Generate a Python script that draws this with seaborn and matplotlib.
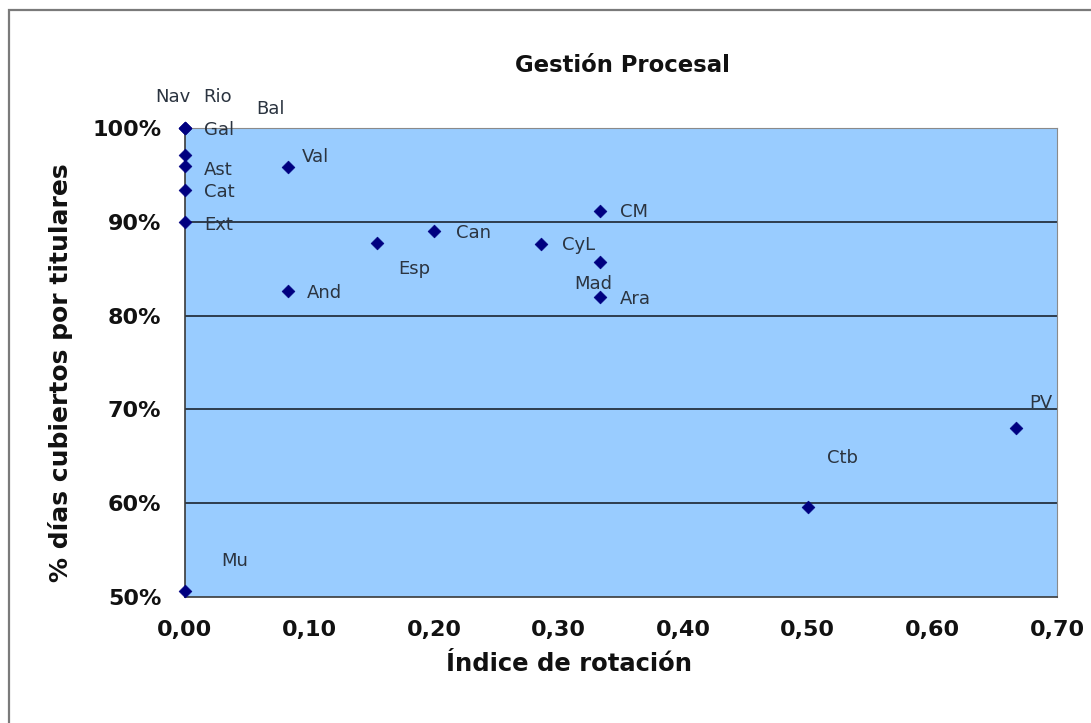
import matplotlib
matplotlib.use("Agg")
import matplotlib.pyplot as plt
import matplotlib.patches as mpatches
from matplotlib.ticker import FuncFormatter, MultipleLocator
import seaborn as sns
import pandas as pd

# Regional data: rotation index vs. share of days covered by permanent judges
regions = ["Nav", "Rio", "Gal", "Bal", "Ast", "Cat", "Ext", "Val", "And", "Esp",
           "Can", "CyL", "CM", "Mad", "Ara", "Ctb", "PV", "Mu"]
rotation = [0.0, 0.0, 0.0, 0.0, 0.0, 0.0, 0.0, 0.083, 0.083, 0.154,
            0.200, 0.286, 0.333, 0.333, 0.333, 0.500, 0.667, 0.0]
coverage = [1.000, 1.000, 1.000, 0.971, 0.959, 0.934, 0.900, 0.958, 0.826, 0.877,
            0.890, 0.876, 0.912, 0.857, 0.820, 0.596, 0.680, 0.506]

# Label offsets in pixels (placement only)
label_offsets = {
    "Nav": (-30, 31), "Rio": (18, 31), "Bal": (71, 46), "Gal": (19, -2),
    "Ast": (19, -4), "Cat": (19, -2), "Ext": (19, -3), "Val": (13, 10),
    "And": (18, -2), "Esp": (21, -26), "Can": (22, -2), "CyL": (21, -1),
    "CM": (20, -1), "Mad": (-26, -22), "Ara": (20, -2), "Ctb": (19, 49),
    "PV": (13, 25), "Mu": (36, 30),
}

df = pd.DataFrame({"region": regions, "rotation": rotation, "coverage": coverage})

sns.set_theme(style="white")
plt.rcParams["font.family"] = ["DejaVu Sans"]

W, H = 1091, 723
fig = plt.figure(figsize=(W / 100, H / 100), dpi=100)
fig.patch.set_facecolor("white")

# Outer chart frame
frame = mpatches.Rectangle((9 / W, -0.01), 1.02, 1 - 10 / H + 0.01,
                           transform=fig.transFigure, fill=False,
                           edgecolor="#7a7a7a", linewidth=1.6, zorder=0)
fig.patches.append(frame)

ax = fig.add_axes([185 / W, 1 - 597 / H, (1057 - 185) / W, (597 - 128) / H])
ax.set_facecolor("#99CCFF")

sns.scatterplot(data=df, x="rotation", y="coverage", ax=ax, marker="D",
                color="#000080", s=42, edgecolor="#000080", linewidth=0.5,
                zorder=5, clip_on=False, legend=False)

ax.set_xlim(0, 0.70)
ax.set_ylim(0.5, 1.0)
ax.xaxis.set_major_locator(MultipleLocator(0.10))
ax.yaxis.set_major_locator(MultipleLocator(0.10))
ax.xaxis.set_major_formatter(FuncFormatter(lambda v, p: f"{v:.2f}".replace(".", ",")))
ax.yaxis.set_major_formatter(FuncFormatter(lambda v, p: f"{v * 100:.0f}%"))

for y in [0.6, 0.7, 0.8, 0.9]:
    ax.axhline(y, color="#1c2430", linewidth=1.2, zorder=1)

for side in ["top", "right"]:
    ax.spines[side].set_color("#8a8a8a")
    ax.spines[side].set_linewidth(0.8)
for side in ["left", "bottom"]:
    ax.spines[side].set_color("#3a3a3a")
    ax.spines[side].set_linewidth(1.2)

ax.tick_params(axis="x", direction="inout", length=9, width=1, color="#3a3a3a",
               labelsize=16, pad=12)
ax.tick_params(axis="y", direction="out", length=0, labelsize=16, pad=17)
for lbl in ax.get_xticklabels() + ax.get_yticklabels():
    lbl.set_fontweight("bold")
    lbl.set_color("#111111")

ax.set_xlabel("Índice de rotación", fontsize=17.5, fontweight="bold", color="#111111")
ax.set_ylabel("% días cubiertos por titulares", fontsize=18, fontweight="bold", color="#111111")
ax.xaxis.set_label_coords((569 - 185) / (1057 - 185), (597 - 652) / (597 - 128))
ax.yaxis.set_label_coords((73 - 185) / (1057 - 185), (597 - 373) / (597 - 128))

fig.text(622 / W, 1 - 66 / H, "Gestión Procesal", ha="center", va="center",
         fontsize=16.4, fontweight="bold", color="#111111")

for r, xv, yv in zip(regions, rotation, coverage):
    dx, dy = label_offsets[r]
    ax.annotate(r, (xv, yv), xytext=(dx, dy), textcoords="offset pixels",
                ha="left", va="center", fontsize=13, color="#2b3440",
                annotation_clip=False, zorder=6)

fig.savefig("out.png", dpi=100)
